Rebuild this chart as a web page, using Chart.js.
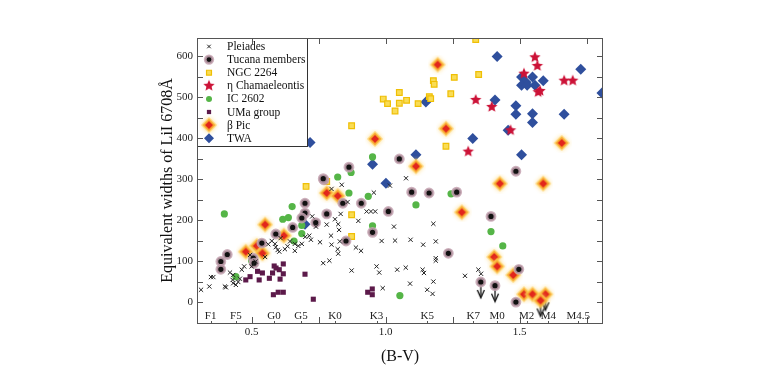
<!DOCTYPE html>
<html>
<head>
<meta charset="utf-8">
<script src="https://cdn.jsdelivr.net/npm/chart.js@4/dist/chart.umd.min.js"></script>
<style>
  html, body { margin: 0; padding: 0; background: #fff; }
  #c { display: block; }
</style>
</head>
<body>
<canvas id="c" width="764" height="374"></canvas>
<script>
// (B-V), EW(LiI) pairs
const pleiades = [
  [0.311,31],[0.342,39],[0.348,62],[0.357,62],[0.400,39],[0.404,37],[0.419,73],[0.431,67],
  [0.429,55],[0.431,47],[0.441,43],[0.450,50],[0.456,58],[0.463,80],[0.472,88],[0.500,88],
  [0.494,116],[0.515,100],[0.550,111],[0.562,142],[0.575,150],[0.587,143],[0.597,128],[0.603,124],
  [0.608,157],[0.590,135],[0.624,130],[0.634,137],[0.643,149],[0.661,143],[0.661,126],[0.674,138],
  [0.687,143],[0.700,160],[0.715,163],[0.721,153],[0.726,210],[0.740,185],[0.755,147],[0.767,96],
  [0.780,190],[0.790,102],[0.798,141],[0.796,163],[0.811,203],[0.823,191],[0.826,177],[0.829,149],
  [0.821,130],[0.823,119],[0.832,216],[0.836,287],[0.798,277],[0.858,245],[0.873,78],[0.889,134],
  [0.908,126],[0.898,199],[0.929,222],[0.945,222],[0.961,222],[0.956,268],[0.966,88],[0.976,73],
  [0.985,150],[0.989,35],[1.016,285],[1.031,185],[1.035,151],[1.043,80],[1.075,85],[1.091,46],
  [1.093,153],[1.076,303],[1.140,141],[1.138,80],[1.155,31],[1.178,192],[1.187,149],[1.187,108],
  [1.187,102],[1.143,72],[1.178,51],[1.175,21],[1.296,65],[1.346,80],[1.356,70]
];
const tucana = [
  [0.385,100],[0.409,117],[0.385,81],[0.506,108],[0.509,96],[0.538,145],[0.590,167],[0.653,183],
  [0.699,218],[0.699,242],[0.687,206],[0.739,195],[0.770,299],[0.780,216],[0.840,242],[0.852,150],
  [0.909,242],[0.951,171],[1.010,222],[1.097,269],[1.162,267],[0.767,302],[0.863,330],[1.051,350],
  [1.486,320],[1.265,269],[1.393,210],[1.234,120],[1.497,81],[1.355,50],[1.408,41],[1.486,1]
];
const ngc2264 = [
  [0.991,496],[1.007,485],[1.051,512],[1.051,486],[1.035,467],[1.078,493],[1.121,485],[0.873,431],
  [1.336,641],[1.256,549],[1.347,556],[1.178,541],[1.181,532],[1.243,509],[1.163,502],[1.168,497],
  [1.225,381],[0.703,283],[0.873,214],[0.873,161],[0.780,295]
];
const etaCha = [
  [1.557,598],[1.566,577],[1.516,558],[1.569,513],[1.576,516],[1.666,541],[1.698,541],[1.336,494],
  [1.396,477],[1.466,420],[1.308,368]
];
const ic2602 = [
  [0.398,216],[0.441,63],[0.500,102],[0.616,203],[0.637,207],[0.651,234],[0.658,150],[0.687,168],
  [0.687,188],[0.821,306],[0.871,317],[0.863,267],[0.935,259],[0.951,187],[0.951,355],[1.113,238],
  [1.053,17],[1.244,265],[1.393,173],[1.437,138]
];
const umaGroup = [
  [0.478,55],[0.494,63],[0.522,76],[0.528,55],[0.540,72],[0.566,59],[0.578,72],[0.584,89],
  [0.591,84],[0.603,80],[0.606,57],[0.618,70],[0.618,94],[0.581,19],[0.599,25],[0.618,25],
  [0.699,69],[0.730,8],[0.933,25],[0.950,33],[0.950,19]
];
const betaPic = [
  [0.478,124],[0.519,138],[0.540,120],[0.550,190],[0.620,163],[0.780,267],[0.821,260],[0.960,399],
  [1.113,332],[1.194,580],[1.225,424],[1.657,389],[1.426,290],[1.588,290],[1.284,220],[1.405,111],
  [1.416,88],[1.476,67],[1.516,20],[1.548,20],[1.596,20],[1.578,5]
];
const twa = [
  [0.718,390],[1.150,489],[0.951,337],[1.113,360],[1.416,600],[1.507,550],[1.548,550],[1.524,537],
  [1.507,530],[1.528,530],[1.557,530],[1.588,541],[1.728,569],[1.807,511],[1.408,494],[1.486,480],
  [1.486,459],[1.548,460],[1.548,439],[1.666,459],[1.457,420],[1.325,400],[1.507,360],[0.699,191],
  [1.001,291]
];
// upper limits (drawn with a down arrow)
const upperLimits = [[1.355,50],[1.408,41],[1.596,20],[1.578,5]];

const spectralTypes = ['F1','F5','G0','G5','K0','K3','K5','K7','M0','M2','M4','M4.5'];
const spectralBV = [0.347,0.441,0.583,0.684,0.811,0.966,1.155,1.327,1.416,1.526,1.607,1.719];

const serif = "'Liberation Serif', 'Times New Roman', serif";
const pts = arr => arr.map(p => ({ x: p[0], y: p[1] }));

function makeStar(r, color) {
  const s = Math.ceil(r * 2 + 2), c = document.createElement('canvas');
  c.width = c.height = s;
  const g = c.getContext('2d');
  g.fillStyle = color;
  g.beginPath();
  for (let i = 0; i < 10; i++) {
    const rr = i % 2 ? r * 0.45 : r, a = -Math.PI / 2 + i * Math.PI / 5;
    g.lineTo(s / 2 + rr * Math.cos(a), s / 2 + rr * Math.sin(a));
  }
  g.closePath(); g.fill();
  return c;
}
function diamond(g, cx, cy, h) {
  g.beginPath(); g.moveTo(cx, cy - h); g.lineTo(cx + h, cy); g.lineTo(cx, cy + h); g.lineTo(cx - h, cy); g.closePath(); g.fill();
}
function makeGlow() {
  const c = document.createElement('canvas'); c.width = c.height = 20;
  const g = c.getContext('2d');
  g.shadowColor = 'rgba(255,205,80,0.9)'; g.shadowBlur = 4;
  g.fillStyle = 'rgba(253,205,90,0.7)'; diamond(g, 10, 10, 8);
  g.shadowBlur = 0;
  g.fillStyle = '#f7a52e'; diamond(g, 10, 10, 6.2);
  g.fillStyle = '#e2261c'; diamond(g, 10, 10, 4);
  return c;
}
function makeArrow() {
  const c = document.createElement('canvas'); c.width = 10; c.height = 36;
  const g = c.getContext('2d');
  g.strokeStyle = '#111'; g.lineWidth = 1.3;
  g.beginPath(); g.moveTo(5, 18); g.lineTo(5, 33); g.stroke();
  g.beginPath(); g.moveTo(1.5, 26); g.lineTo(5, 34); g.lineTo(8.5, 26); g.stroke();
  return c;
}

const legendBox = {
  id: 'legendBox',
  afterDatasetsDraw(chart) {
    const { ctx, chartArea: a } = chart;
    ctx.save();
    ctx.fillStyle = '#fff';
    ctx.fillRect(a.left, a.top, 110, 109);
    ctx.strokeStyle = '#333'; ctx.lineWidth = 1;
    ctx.strokeRect(a.left + 0.5, a.top + 0.5, 110, 108);
    ctx.font = '11.5px ' + serif;
    ctx.textBaseline = 'middle';
    let row = 0;
    chart.data.datasets.forEach(ds => {
      if (ds.noLegend) return;
      const y = a.top + 8.5 + row * 13.1, x = a.left + 12;
      ctx.fillStyle = ds.backgroundColor;
      ctx.strokeStyle = ds.borderColor;
      ctx.lineWidth = ds.borderWidth;
      Chart.helpers.drawPoint(ctx, { pointStyle: ds.pointStyle, radius: ds.legendRadius || ds.pointRadius, borderWidth: ds.borderWidth, rotation: 0 }, x, y);
      ctx.fillStyle = '#111';
      ctx.fillText(ds.label, a.left + 30, y + 0.5);
      row++;
    });
    ctx.restore();
  }
};

const frame = {
  id: 'frame',
  afterDraw(chart) {
    const { ctx, chartArea: a, scales } = chart;
    ctx.save();
    ctx.strokeStyle = '#555'; ctx.lineWidth = 1;
    ctx.strokeRect(a.left + 0.5, a.top + 0.5, a.right - a.left - 1, a.bottom - a.top);
    ctx.beginPath();
    scales.y.ticks.forEach(t => {
      const y = Math.round(scales.y.getPixelForValue(t.value)) + 0.5;
      ctx.moveTo(a.left, y); ctx.lineTo(a.left + 6, y);
      ctx.moveTo(a.right, y); ctx.lineTo(a.right - 6, y);
    });
    scales.x.ticks.forEach(t => {
      const x = Math.round(scales.x.getPixelForValue(t.value)) + 0.5;
      ctx.moveTo(x, a.top); ctx.lineTo(x, a.top + 6);
      ctx.moveTo(x, a.bottom); ctx.lineTo(x, a.bottom - 6);
    });
    ctx.stroke();
    // spectral types along the bottom
    ctx.font = '11px ' + serif;
    ctx.fillStyle = '#222';
    ctx.textAlign = 'center';
    ctx.textBaseline = 'middle';
    ctx.beginPath();
    spectralTypes.forEach((s, i) => {
      const x = scales.x.getPixelForValue(spectralBV[i]);
      ctx.fillText(s, x, a.bottom - 7);
      ctx.moveTo(Math.round(x) + 0.5, a.bottom); ctx.lineTo(Math.round(x) + 0.5, a.bottom - 2);
    });
    ctx.stroke();
    ctx.restore();
  }
};

new Chart(document.getElementById('c'), {
  type: 'scatter',
  data: {
    datasets: [
      { label: 'Pleiades', data: pts(pleiades), pointStyle: 'crossRot', pointRadius: 3, legendRadius: 2.5,
        backgroundColor: '#222', borderColor: '#222', borderWidth: 1 },
      { label: 'Tucana members', data: pts(tucana), pointStyle: 'circle', pointRadius: 4, legendRadius: 3.8,
        backgroundColor: '#111', borderColor: 'rgba(196,162,176,0.85)', borderWidth: 2.8 },
      { label: 'NGC 2264', data: pts(ngc2264), pointStyle: 'rect', pointRadius: 4, legendRadius: 3.5,
        backgroundColor: '#f9dc55', borderColor: '#efbf05', borderWidth: 1.2 },
      { label: 'η Chamaeleontis', data: pts(etaCha), pointStyle: makeStar(6, '#cc1237'), pointRadius: 6,
        backgroundColor: '#cc1237', borderColor: '#cc1237', borderWidth: 0 },
      { label: 'IC 2602', data: pts(ic2602), pointStyle: 'circle', pointRadius: 3.6, legendRadius: 3,
        backgroundColor: '#55b547', borderColor: '#55b547', borderWidth: 0 },
      { label: 'UMa group', data: pts(umaGroup), pointStyle: 'rect', pointRadius: 3.6, legendRadius: 3,
        backgroundColor: '#5c1a4a', borderColor: '#5c1a4a', borderWidth: 0 },
      { label: 'β Pic', data: pts(betaPic), pointStyle: makeGlow(), pointRadius: 9,
        backgroundColor: '#e2261c', borderColor: '#f6a12a', borderWidth: 0 },
      { label: 'TWA', data: pts(twa), pointStyle: 'rectRot', pointRadius: 5.5, legendRadius: 5,
        backgroundColor: '#2f4f9d', borderColor: '#2f4f9d', borderWidth: 0 },
      { label: 'limits', noLegend: true, data: pts(upperLimits), pointStyle: makeArrow(), pointRadius: 10,
        backgroundColor: '#111', borderColor: '#111', borderWidth: 0 }
    ]
  },
  options: {
    responsive: false,
    animation: false,
    events: [],
    layout: { padding: { left: 140, top: 38, right: 161, bottom: 0 } },
    plugins: { legend: { display: false }, tooltip: { enabled: false } },
    scales: {
      x: {
        type: 'linear', min: 0.296, max: 1.811,
        afterFit: s => { s.height = 51; },
        grid: { display: false, drawTicks: false },
        border: { display: false },
        ticks: {
          stepSize: 0.25, includeBounds: false, padding: 3, autoSkip: false, maxRotation: 0,
          color: '#222', font: { family: serif, size: 11 },
          callback: v => (Math.abs(v * 2 - Math.round(v * 2)) < 1e-6 ? v.toFixed(1) : '')
        },
        title: { display: true, text: '(B-V)', color: '#111', font: { family: serif, size: 16 }, padding: { top: 0, bottom: 8 } }
      },
      y: {
        type: 'linear', min: -50, max: 645,
        afterFit: s => { s.width = 57; },
        grid: { display: false, drawTicks: false },
        border: { display: false },
        ticks: {
          stepSize: 50, includeBounds: false, padding: 4, autoSkip: false,
          color: '#222', font: { family: serif, size: 11 },
          callback: v => (v >= 0 && v % 100 === 0 ? String(v) : '')
        },
        title: { display: true, text: 'Equivalent widths of LiI 6708Å', color: '#111', font: { family: serif, size: 16 }, padding: { top: 18, bottom: 0 } }
      }
    }
  },
  plugins: [legendBox, frame]
});
</script>
</body>
</html>
